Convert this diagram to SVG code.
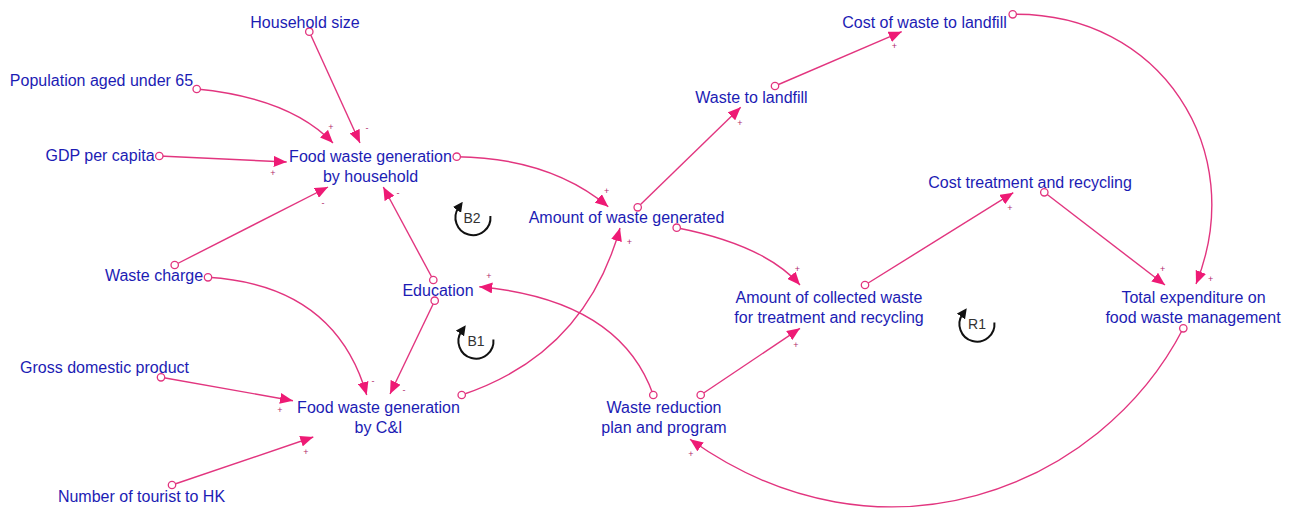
<svg xmlns="http://www.w3.org/2000/svg" width="1293" height="509" viewBox="0 0 1293 509">
  <style>
    .lbl { font-family: "Liberation Sans", Arial, sans-serif; font-size: 16px; fill: #1c1cb4; text-anchor: middle; }
    .link { fill: none; stroke: #e2357f; stroke-width: 1.4; marker-end: url(#ah); }
    .tail { fill: #ffffff; stroke: #e2357f; stroke-width: 1.3; }
    .pol { font-family: "Liberation Sans", Arial, sans-serif; font-size: 9px; fill: #b02a6c; text-anchor: middle; }
    .loop { fill: none; stroke: #111111; stroke-width: 2; marker-end: url(#lh); }
    .looplbl { font-family: "Liberation Sans", Arial, sans-serif; font-size: 14px; fill: #333333; text-anchor: middle; }
  </style>
  <defs>
    <marker id="ah" viewBox="0 0 13 11" refX="13" refY="5.5" markerWidth="13" markerHeight="11" markerUnits="userSpaceOnUse" orient="auto">
      <path d="M0,0 L13,5.5 L0,11 z" fill="#ee1a75"/>
    </marker>
    <marker id="lh" viewBox="0 0 10 10" refX="3" refY="5" markerWidth="10" markerHeight="10" markerUnits="userSpaceOnUse" orient="auto">
      <path d="M0,0 L10,5 L0,10 z" fill="#111111"/>
    </marker>
  </defs>

  <rect width="1293" height="509" fill="#ffffff"/>

  <!-- causal links -->
  <g id="connectors">
    <path class="link" d="M309.3,31.7 L360,143"/>
    <path class="link" d="M196.7,89 Q290,98 333,143"/>
    <path class="link" d="M159.3,156 L286.7,162"/>
    <path class="link" d="M174.7,265 L328,187"/>
    <path class="link" d="M433.3,280 L383.3,187"/>
    <path class="link" d="M208,277.3 Q335,285 366.7,395"/>
    <path class="link" d="M434.7,300.7 L390,394"/>
    <path class="link" d="M161,377.3 L293,400.7"/>
    <path class="link" d="M172,485 L313.3,437"/>
    <path class="link" d="M456.7,156.7 Q550,158 608.3,206.7"/>
    <path class="link" d="M461.7,395 Q585,354 620,228"/>
    <path class="link" d="M653.3,395 Q620,300 479.3,286.7"/>
    <path class="link" d="M637.7,207.3 L740.7,107.3"/>
    <path class="link" d="M775,86 L901.7,31.7"/>
    <path class="link" d="M676.7,227.7 Q765,245 800,285"/>
    <path class="link" d="M700.7,395 L800,328.3"/>
    <path class="link" d="M865,285 L1013.3,192.7"/>
    <path class="link" d="M1044.3,192.3 L1165,285"/>
    <path class="link" d="M1012.7,14.3 C1160,12 1250,150 1196,284"/>
    <path class="link" d="M1183.3,328.3 C1100,490 880,575 690,439.3"/>

    <!-- link tails -->
    <circle class="tail" cx="309.3" cy="31.7" r="3.7"/>
    <circle class="tail" cx="196.7" cy="89" r="3.7"/>
    <circle class="tail" cx="159.3" cy="156" r="3.7"/>
    <circle class="tail" cx="174.7" cy="265" r="3.7"/>
    <circle class="tail" cx="433.3" cy="280" r="3.7"/>
    <circle class="tail" cx="208" cy="277.3" r="3.7"/>
    <circle class="tail" cx="434.7" cy="300.7" r="3.7"/>
    <circle class="tail" cx="161" cy="377.3" r="3.7"/>
    <circle class="tail" cx="172" cy="485" r="3.7"/>
    <circle class="tail" cx="456.7" cy="156.7" r="3.7"/>
    <circle class="tail" cx="461.7" cy="395" r="3.7"/>
    <circle class="tail" cx="653.3" cy="395" r="3.7"/>
    <circle class="tail" cx="637.7" cy="207.3" r="3.7"/>
    <circle class="tail" cx="775" cy="86" r="3.7"/>
    <circle class="tail" cx="676.7" cy="227.7" r="3.7"/>
    <circle class="tail" cx="700.7" cy="395" r="3.7"/>
    <circle class="tail" cx="865" cy="285" r="3.7"/>
    <circle class="tail" cx="1044.3" cy="192.3" r="3.7"/>
    <circle class="tail" cx="1012.7" cy="14.3" r="3.7"/>
    <circle class="tail" cx="1183.3" cy="328.3" r="3.7"/>

    <!-- polarities -->
    <text class="pol" x="367" y="131">-</text>
    <text class="pol" x="331" y="130">+</text>
    <text class="pol" x="273" y="176">+</text>
    <text class="pol" x="323" y="206">-</text>
    <text class="pol" x="398" y="196">-</text>
    <text class="pol" x="373" y="384">-</text>
    <text class="pol" x="404" y="393">-</text>
    <text class="pol" x="280" y="413">+</text>
    <text class="pol" x="306" y="455">+</text>
    <text class="pol" x="606.7" y="194">+</text>
    <text class="pol" x="629.3" y="244.7">+</text>
    <text class="pol" x="489" y="278.7">+</text>
    <text class="pol" x="740" y="125.7">+</text>
    <text class="pol" x="894.3" y="49">+</text>
    <text class="pol" x="797.3" y="272">+</text>
    <text class="pol" x="796" y="348">+</text>
    <text class="pol" x="1010" y="211.3">+</text>
    <text class="pol" x="1162.7" y="272">+</text>
    <text class="pol" x="1210.7" y="282">+</text>
    <text class="pol" x="691" y="457">+</text>
  </g>

  <!-- variables -->
  <g id="household-size"><text class="lbl" x="305" y="28">Household size</text></g>
  <g id="population-under-65"><text class="lbl" x="101.5" y="86">Population aged under 65</text></g>
  <g id="gdp-per-capita"><text class="lbl" x="100" y="161">GDP per capita</text></g>
  <g id="fwg-household"><text class="lbl" x="370.5" y="162">Food waste generation</text><text class="lbl" x="370.5" y="182">by household</text></g>
  <g id="waste-charge"><text class="lbl" x="154" y="281">Waste charge</text></g>
  <g id="education"><text class="lbl" x="438" y="296">Education</text></g>
  <g id="gross-domestic-product"><text class="lbl" x="104.5" y="373">Gross domestic product</text></g>
  <g id="fwg-ci"><text class="lbl" x="378.5" y="413">Food waste generation</text><text class="lbl" x="378.5" y="433">by C&amp;I</text></g>
  <g id="tourists"><text class="lbl" x="141.5" y="502">Number of tourist to HK</text></g>
  <g id="amount-generated"><text class="lbl" x="626.5" y="223">Amount of waste generated</text></g>
  <g id="waste-reduction"><text class="lbl" x="664" y="413">Waste reduction</text><text class="lbl" x="664" y="433">plan and program</text></g>
  <g id="collected-waste"><text class="lbl" x="829" y="303">Amount of collected waste</text><text class="lbl" x="829" y="323">for treatment and recycling</text></g>
  <g id="waste-to-landfill"><text class="lbl" x="751.5" y="103">Waste to landfill</text></g>
  <g id="cost-landfill"><text class="lbl" x="924.5" y="28">Cost of waste to landfill</text></g>
  <g id="cost-treatment"><text class="lbl" x="1030" y="188">Cost treatment and recycling</text></g>
  <g id="total-expenditure"><text class="lbl" x="1193.5" y="303">Total expenditure on</text><text class="lbl" x="1193" y="323">food waste management</text></g>

  <!-- loop markers -->
  <g id="loop-b2">
    <path class="loop" d="M490.4,216 A17.5,17.5 0 1 1 458.7,207.5"/>
    <text class="looplbl" x="472" y="223">B2</text>
  </g>
  <g id="loop-b1">
    <path class="loop" d="M493.4,339.5 A17.5,17.5 0 1 1 461.7,331"/>
    <text class="looplbl" x="476" y="346">B1</text>
  </g>
  <g id="loop-r1">
    <path class="loop" d="M994.4,322.5 A17.5,17.5 0 1 1 962.7,314"/>
    <text class="looplbl" x="977" y="329">R1</text>
  </g>
</svg>
